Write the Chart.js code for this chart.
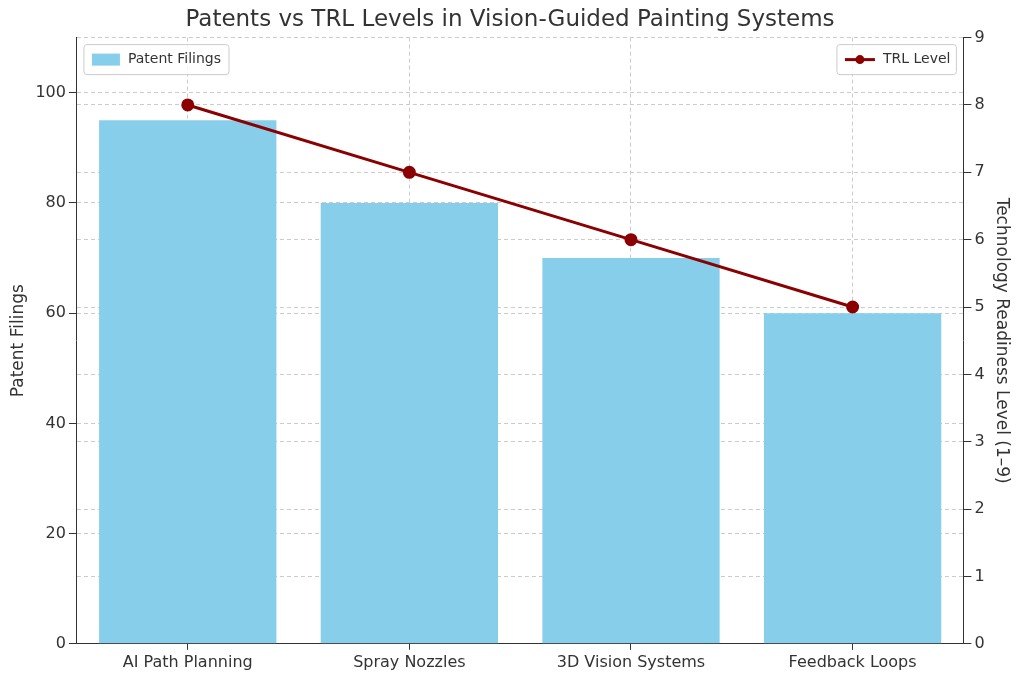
<!DOCTYPE html>
<html><head><script src="https://cdn.jsdelivr.net/npm/chart.js"></script>
<style>html,body{margin:0;background:#fff}#w{width:1024px;height:679px}</style></head>
<body><div id="w"><canvas id="c"></canvas></div>
<script>
const categories=["AI Path Planning","Spray Nozzles","3D Vision Systems","Feedback Loops"];
const patentFilings=[95,80,70,60];
const trlLevels=[8,7,6,5];
const leftTicks=[0,20,40,60,80,100];
const rightTicks=[0,1,2,3,4,5,6,7,8,9];
const F="DejaVu Sans";
const legends={id:'lg',afterDraw(ch){const a=ch.chartArea,x=ch.ctx;x.save();x.font="14px "+F;x.textBaseline="middle";
 // left
 let w=x.measureText("Patent Filings").width+52;x.fillStyle="rgba(255,255,255,0.8)";x.strokeStyle="#ccc";x.lineWidth=1;
 x.beginPath();x.roundRect(a.left+7,a.top+7,w,30,3);x.fill();x.stroke();
 x.fillStyle="#87CEEB";x.fillRect(a.left+15,a.top+16,28,12);x.fillStyle="#333";x.fillText("Patent Filings",a.left+51,a.top+22);
 let w2=x.measureText("TRL Level").width+52;let lx=a.right-7-w2;
 x.fillStyle="rgba(255,255,255,0.8)";x.beginPath();x.roundRect(lx,a.top+7,w2,30,3);x.fill();x.stroke();
 x.strokeStyle="#8B0000";x.lineWidth=3;x.beginPath();x.moveTo(lx+8,a.top+22);x.lineTo(lx+38,a.top+22);x.stroke();
 x.fillStyle="#8B0000";x.beginPath();x.arc(lx+23,a.top+22,4.5,0,7);x.fill();
 x.fillStyle="#333";x.fillText("TRL Level",lx+46,a.top+22);x.restore();}};
new Chart(document.getElementById('c'),{
 data:{labels:categories,datasets:[
  {type:'line',label:'TRL Level',data:trlLevels,yAxisID:'y1',borderColor:'#8B0000',backgroundColor:'#8B0000',borderWidth:3,pointRadius:5,pointHoverRadius:5,order:0},
  {type:'bar',label:'Patent Filings',data:patentFilings,yAxisID:'y',backgroundColor:'#87CEEB',categoryPercentage:1,barPercentage:0.8,order:1}]},
 plugins:[legends],
 options:{responsive:true,maintainAspectRatio:false,animation:false,
  layout:{padding:{left:4,right:8,top:0,bottom:4}},
  plugins:{legend:{display:false},tooltip:{enabled:false},
   title:{display:true,text:"Patents vs TRL Levels in Vision-Guided Painting Systems",color:'#333',font:{family:F,size:23,weight:'normal'},padding:{top:6,bottom:4}}},
  scales:{
   x:{grid:{offset:false,color:'#ccc',tickColor:'#333',tickLength:6,borderDash:[4,3]},border:{color:'#333',dash:[4,3]},ticks:{color:'#333',font:{family:F,size:16}}},
   y:{position:'left',min:0,max:110,afterBuildTicks(s){s.ticks=leftTicks.map(v=>({value:v}))},
     grid:{color:'#ccc',tickColor:'#333'},border:{color:'#333',dash:[4,3]},ticks:{color:'#333',font:{family:F,size:16}},
     title:{display:true,text:'Patent Filings',color:'#333',font:{family:F,size:17}}},
   y1:{position:'right',min:0,max:9,afterBuildTicks(s){s.ticks=rightTicks.map(v=>({value:v}))},
     grid:{color:'#ccc',tickColor:'#333'},border:{color:'#333',dash:[4,3]},ticks:{color:'#333',font:{family:F,size:16}},
     title:{display:true,text:'Technology Readiness Level (1–9)',color:'#333',font:{family:F,size:17}}}
  }}});
</script></body></html>
